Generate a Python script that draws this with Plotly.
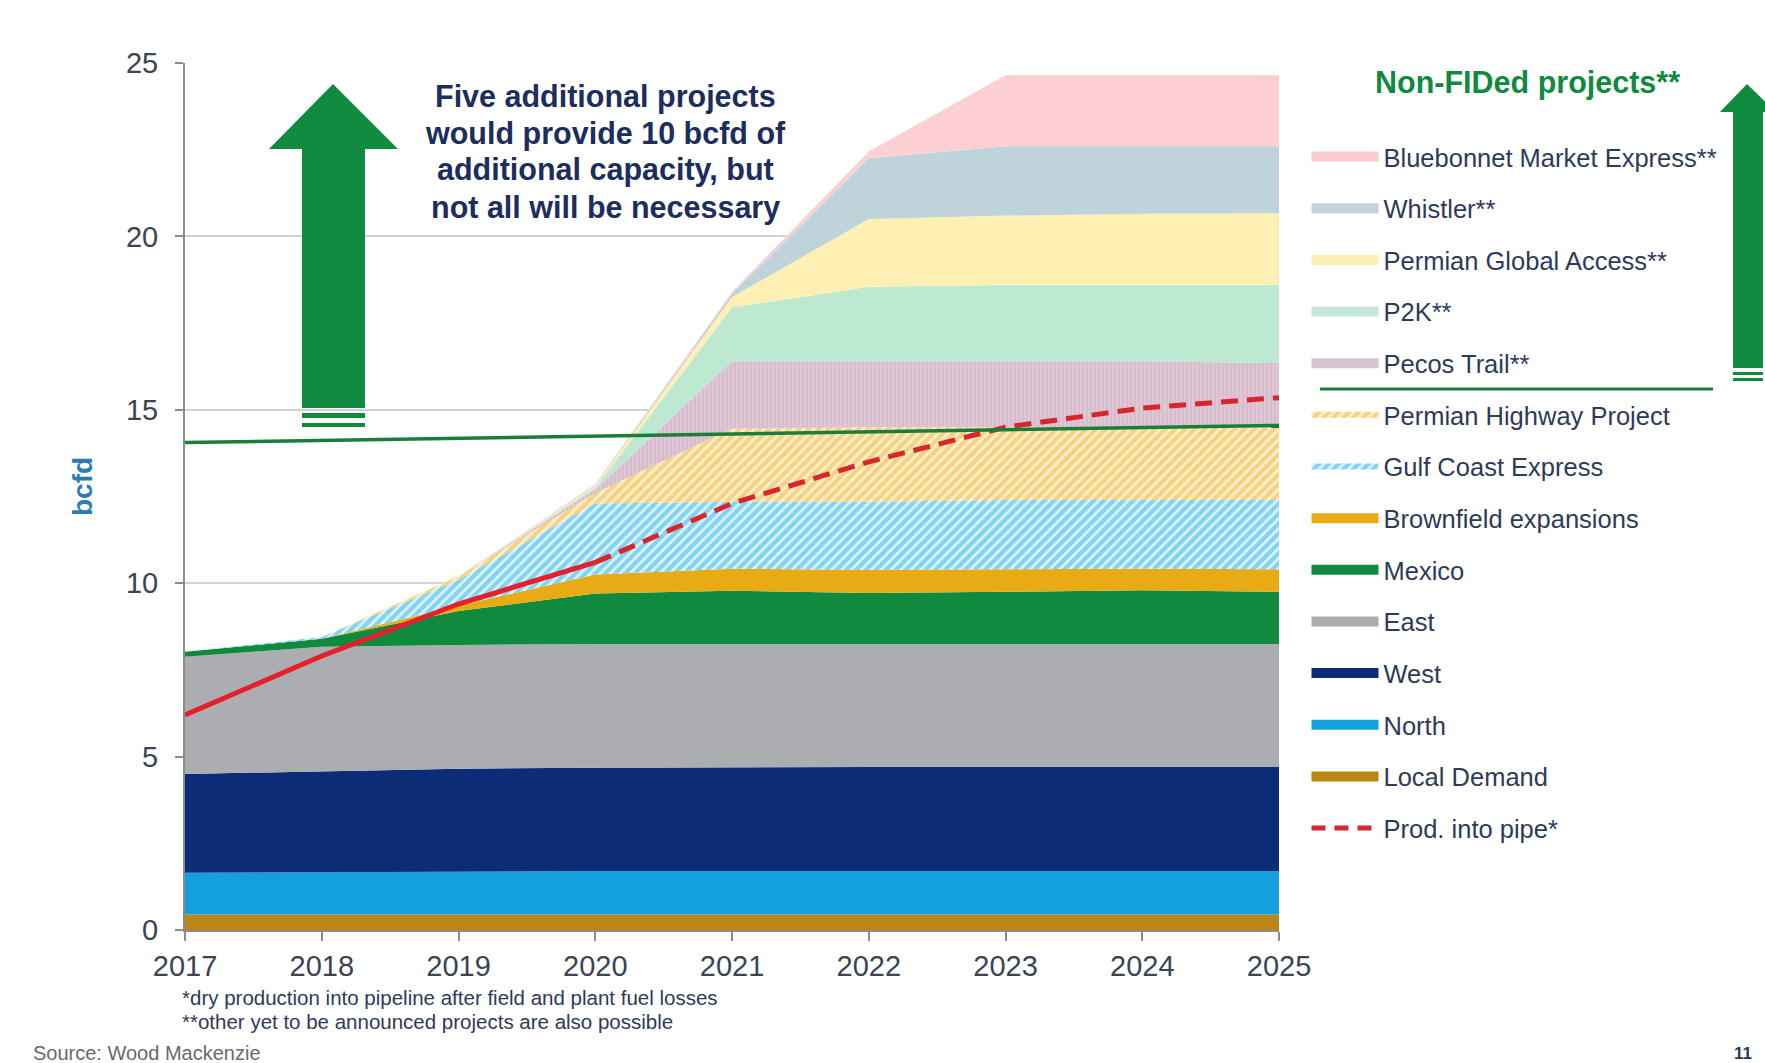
import plotly.graph_objects as go

# ---------------- data (bcfd) ----------------
years = [2017, 2018, 2019, 2020, 2021, 2022, 2023, 2024, 2025]

local_demand = [0.45, 0.45, 0.45, 0.45, 0.45, 0.45, 0.45, 0.45, 0.45]
north        = [1.20, 1.22, 1.25, 1.25, 1.25, 1.25, 1.25, 1.25, 1.25]
west         = [2.85, 2.91, 2.95, 2.98, 3.00, 3.00, 3.00, 3.00, 3.00]
east         = [3.38, 3.59, 3.57, 3.57, 3.55, 3.55, 3.55, 3.55, 3.55]
mexico       = [0.14, 0.23, 0.98, 1.45, 1.53, 1.47, 1.50, 1.55, 1.50]
brownfield   = [0.00, 0.00, 0.15, 0.55, 0.64, 0.66, 0.65, 0.62, 0.65]
gulf_coast   = [0.00, 0.05, 0.75, 2.05, 1.93, 1.97, 2.00, 1.98, 2.00]
permian_hwy  = [0.00, 0.00, 0.10, 0.30, 2.10, 2.15, 2.10, 2.10, 2.10]
pecos_trail  = [0.00, 0.00, 0.00, 0.10, 1.95, 1.90, 1.90, 1.90, 1.85]
p2k          = [0.00, 0.00, 0.00, 0.05, 1.55, 2.15, 2.20, 2.20, 2.25]
pga          = [0.00, 0.00, 0.00, 0.05, 0.30, 1.95, 2.00, 2.05, 2.07]
whistler     = [0.00, 0.00, 0.00, 0.02, 0.10, 1.75, 2.00, 1.95, 1.93]
bluebonnet   = [0.00, 0.00, 0.00, 0.03, 0.05, 0.20, 2.05, 2.05, 2.05]

prod_into_pipe = [6.20, 7.90, 9.40, 10.60, 12.30, 13.50, 14.50, 15.05, 15.35]
actual_until = 2020   # solid line up to here, dashed afterwards

capacity_line_x = [2016.94, 2025]
capacity_line_y = [14.05, 14.55]

series_names = ["Local Demand", "North", "West", "East", "Mexico",
                "Brownfield expansions", "Gulf Coast Express",
                "Permian Highway Project", "Pecos Trail**", "P2K**",
                "Permian Global Access**", "Whistler**",
                "Bluebonnet Market Express**"]
series_values = [local_demand, north, west, east, mexico, brownfield,
                 gulf_coast, permian_hwy, pecos_trail, p2k, pga, whistler,
                 bluebonnet]

legend_order = ["Bluebonnet Market Express**", "Whistler**",
                "Permian Global Access**", "P2K**", "Pecos Trail**",
                "Permian Highway Project", "Gulf Coast Express",
                "Brownfield expansions", "Mexico", "East", "West", "North",
                "Local Demand", "Prod. into pipe*"]

annotation_lines = ["Five additional projects", "would provide 10 bcfd of",
                    "additional capacity, but", "not all will be necessary"]
heading_text = "Non-FIDed projects**"
footnote_1 = "*dry production into pipeline after field and plant fuel losses"
footnote_2 = "**other yet to be announced projects are also possible"
source_text = "Source: Wood Mackenzie"
page_no = "11"

# ---------------- styles ----------------
FONT = "Liberation Sans, Arial, sans-serif"
TICK_COL = "#3b4354"
TXT_COL = "#2e3a59"
GREEN = "#0f8a3f"

styles = {
    "Local Demand": dict(color="#bb8616"),
    "North": dict(color="#14a0dc"),
    "West": dict(color="#0b2d77"),
    "East": dict(color="#acadb1"),
    "Mexico": dict(color="#108a3e"),
    "Brownfield expansions": dict(color="#e9ab14"),
    "Gulf Coast Express": dict(color="#8fdaf3", pattern=dict(shape="/", fgcolor="#27b2e5", bgcolor="#dcf3fc", size=7, solidity=0.6)),
    "Permian Highway Project": dict(color="#f6d587", pattern=dict(shape="/", fgcolor="#eeb532", bgcolor="#fcefcf", size=7, solidity=0.6)),
    "Pecos Trail**": dict(color="#d9bccf", pattern=dict(shape="|", fgcolor="#c9a8c0", bgcolor="#dfc7d6", size=4, solidity=0.35)),
    "P2K**": dict(color="#bde9d2"),
    "Permian Global Access**": dict(color="#fdf0b2"),
    "Whistler**": dict(color="#bed3da"),
    "Bluebonnet Market Express**": dict(color="#fcd0d2"),
}
legend_colors = {
    "Bluebonnet Market Express**": "#f9cbd0",
    "Whistler**": "#c3d3d9",
    "Permian Global Access**": "#fbefb2",
    "P2K**": "#c8e8da",
    "Pecos Trail**": "#d8c3d0",
}

# pixel helpers (plot area in pixels)
W_FIG, H_FIG = 1765, 1063
L, R, T, B = 185, 1279, 63, 930


def px(x):
    return (x - L) / (R - L)


def py(y):
    return (B - y) / (B - T)


fig = go.Figure()

# stacked areas
for name, vals in zip(series_names, series_values):
    st = styles[name]
    kw = dict(x=years, y=vals, name=name, stackgroup="cap", mode="lines",
              line=dict(width=0, color=st["color"]), fillcolor=st["color"],
              showlegend=False, hoverinfo="skip")
    if "pattern" in st:
        kw["fillpattern"] = st["pattern"]
    fig.add_trace(go.Scatter(**kw))

# production line
idx = years.index(actual_until)
fig.add_trace(go.Scatter(x=years[:idx + 1], y=prod_into_pipe[:idx + 1], mode="lines",
                         line=dict(color="#e5202a", width=5), showlegend=False,
                         hoverinfo="skip"))
fig.add_trace(go.Scatter(x=years[idx:], y=prod_into_pipe[idx:], mode="lines",
                         line=dict(color="#d8262e", width=5, dash="17px,9px"),
                         showlegend=False, hoverinfo="skip"))

# legend entries
for i, name in enumerate(legend_order):
    grp = "g%d" % i
    if name == "Prod. into pipe*":
        fig.add_trace(go.Scatter(x=[None], y=[None], mode="lines", name=name,
                                 legendgroup=grp,
                                 line=dict(color="#d8262e", width=5, dash="14px,9px")))
    elif "pattern" in styles[name] and name != "Pecos Trail**":
        st = styles[name]
        fig.add_trace(go.Scatter(x=[None], y=[None], mode="none", name=name,
                                 legendgroup=grp, fill="toself",
                                 fillcolor=st["color"], fillpattern=st["pattern"]))
    else:
        col = legend_colors.get(name, styles[name]["color"])
        fig.add_trace(go.Scatter(x=[None], y=[None], mode="lines", name=name,
                                 legendgroup=grp, line=dict(color=col, width=10)))

shapes = []
# capacity line (threshold)
shapes.append(dict(type="line", xref="x", yref="y", x0=capacity_line_x[0], y0=capacity_line_y[0],
                   x1=capacity_line_x[1], y1=capacity_line_y[1],
                   line=dict(color="#1b7d3a", width=3.5), layer="above"))
# legend separator
shapes.append(dict(type="line", xref="paper", yref="paper", x0=px(1320), y0=py(389),
                   x1=px(1713), y1=py(389), line=dict(color="#1b7d3a", width=3)))


def poly(points):
    s = "M " + " L ".join("%f,%f" % (px(a), py(b)) for a, b in points) + " Z"
    return s


# left arrow
shapes.append(dict(type="path", xref="paper", yref="paper", layer="above",
                   path=poly([(302, 408), (302, 149), (269, 149), (333, 84),
                              (398, 149), (365, 149), (365, 408)]),
                   fillcolor=GREEN, line=dict(width=0)))
for y0, y1 in [(413, 418), (423, 427)]:
    shapes.append(dict(type="rect", xref="paper", yref="paper", x0=px(302), x1=px(365),
                       y0=py(y1), y1=py(y0), fillcolor=GREEN, line=dict(width=0)))
# right arrow
shapes.append(dict(type="path", xref="paper", yref="paper",
                   path=poly([(1733, 368), (1733, 112), (1720, 112), (1747, 84),
                              (1776, 112), (1763, 112), (1763, 368)]),
                   fillcolor=GREEN, line=dict(width=0)))
for y0, y1 in [(372, 375), (378, 381)]:
    shapes.append(dict(type="rect", xref="paper", yref="paper", x0=px(1733), x1=px(1763),
                       y0=py(y1), y1=py(y0), fillcolor=GREEN, line=dict(width=0)))

annotations = []
for k, line_txt in enumerate(annotation_lines):
    annotations.append(dict(x=px(605), y=py(96 + 37 * k), xref="paper", yref="paper",
                            text="<b>%s</b>" % line_txt, showarrow=False,
                            xanchor="center", yanchor="middle",
                            font=dict(size=30.5, color="#1d2d5c", family=FONT)))
annotations += [
    dict(x=px(1527), y=py(83), xref="paper", yref="paper", text="<b>%s</b>" % heading_text,
         showarrow=False, xanchor="center", yanchor="middle",
         font=dict(size=30.5, color=GREEN, family=FONT)),
    dict(x=px(82), y=py(487), xref="paper", yref="paper", text="<b>bcfd</b>", textangle=-90,
         showarrow=False, xanchor="center", yanchor="middle",
         font=dict(size=28, color="#2a7cb8", family=FONT)),
    dict(x=px(180), y=py(997), xref="paper", yref="paper", text=footnote_1,
         showarrow=False, xanchor="left", yanchor="middle",
         font=dict(size=20.5, color=TXT_COL, family=FONT)),
    dict(x=px(180), y=py(1022), xref="paper", yref="paper", text=footnote_2,
         showarrow=False, xanchor="left", yanchor="middle",
         font=dict(size=20.5, color=TXT_COL, family=FONT)),
    dict(x=px(31), y=py(1053), xref="paper", yref="paper", text=source_text,
         showarrow=False, xanchor="left", yanchor="middle",
         font=dict(size=20, color="#6a6a6a", family=FONT)),
    dict(x=px(1743), y=py(1053), xref="paper", yref="paper", text="<b>%s</b>" % page_no,
         showarrow=False, xanchor="center", yanchor="middle",
         font=dict(size=17, color="#1f3b5c", family=FONT)),
]

fig.update_layout(
    width=W_FIG, height=H_FIG,
    margin=dict(l=L, r=W_FIG - R, t=T, b=H_FIG - B, autoexpand=False),
    paper_bgcolor="white", plot_bgcolor="white",
    font=dict(family=FONT, color=TICK_COL),
    shapes=shapes, annotations=annotations,
    showlegend=True,
    legend=dict(xref="paper", yref="paper", x=px(1306.5), y=py(133.5),
                xanchor="left", yanchor="top", font=dict(size=25.5, color=TXT_COL, family=FONT),
                itemwidth=67, tracegroupgap=15.5, bgcolor="rgba(0,0,0,0)",
                traceorder="grouped", itemclick=False, itemdoubleclick=False),
    xaxis=dict(range=[2017, 2025], tick0=2017, dtick=1, showgrid=False, zeroline=False,
               showline=True, linecolor="#8c8c8c", linewidth=2, ticks="outside",
               ticklen=9, tickwidth=2, tickcolor="#8c8c8c",
               tickfont=dict(size=29, color=TICK_COL, family=FONT), ticklabelstandoff=0),
    yaxis=dict(range=[0, 25], tick0=0, dtick=5, showgrid=True, gridcolor="#d2d2d2",
               gridwidth=2, zeroline=False, showline=True, linecolor="#8c8c8c",
               linewidth=2, ticks="outside", ticklen=8, tickwidth=2, tickcolor="#8c8c8c",
               tickfont=dict(size=29, color=TICK_COL, family=FONT), ticklabelstandoff=11),
)

fig.write_html("out.html", config={"displayModeBar": False},
               post_script="document.body.style.margin='0';")
